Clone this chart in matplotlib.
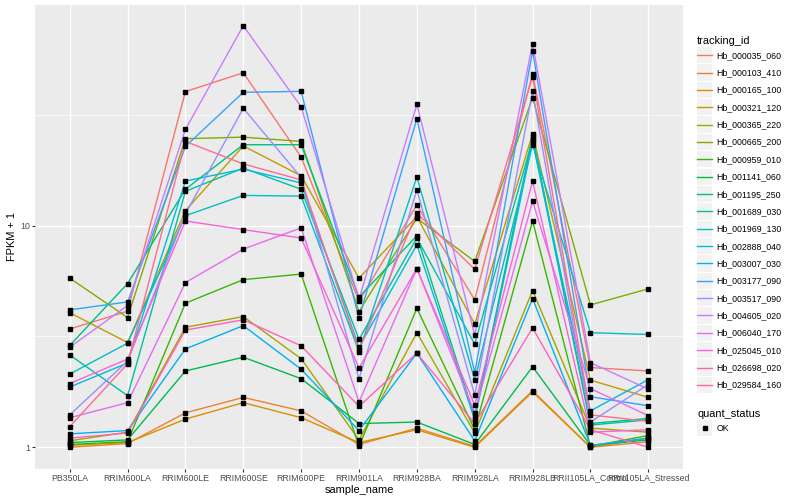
import matplotlib
matplotlib.use('Agg')
import matplotlib.pyplot as plt
from matplotlib.lines import Line2D
from matplotlib.patches import Rectangle
from matplotlib.legend_handler import HandlerLine2D
from matplotlib.ticker import FixedLocator, NullFormatter

plt.rcParams['font.family'] = ['Liberation Sans', 'DejaVu Sans']

# muestras (eje x)
samples = ['PB350LA', 'RRIM600LA', 'RRIM600LE', 'RRIM600SE', 'RRIM600PE',
           'RRIM901LA', 'RRIM928BA', 'RRIM928LA', 'RRIM928LB',
           'RRII105LA_Control', 'RRII105LA_Stressed']

# FPKM + 1 por gen, en el orden de samples
hb_000035_060 = [3.42, 4.11, 40.3, 49.0, 20.4, 4.57, 12.4, 4.63, 48.6, 2.29, 2.21]
hb_000103_410 = [1.00, 1.04, 1.43, 1.68, 1.46, 1.03, 1.22, 1.01, 1.80, 1.00, 1.06]
hb_000165_100 = [1.02, 1.05, 1.34, 1.59, 1.36, 1.05, 1.20, 1.00, 1.78, 1.00, 1.10]
hb_000321_120 = [4.05, 2.97, 11.7, 22.9, 16.8, 5.80, 11.0, 3.60, 26.0, 2.01, 1.68]
hb_000365_220 = [1.07, 1.17, 3.48, 3.89, 2.51, 1.08, 3.29, 1.16, 5.10, 1.22, 1.17]
hb_000665_200 = [5.80, 3.85, 24.7, 25.1, 24.0, 4.10, 10.8, 6.90, 37.8, 4.39, 5.19]
hb_000959_010 = [1.03, 1.06, 4.47, 5.71, 6.05, 1.01, 4.24, 1.20, 10.5, 1.01, 1.13]
hb_001141_060 = [1.05, 1.08, 2.21, 2.55, 2.04, 1.28, 1.30, 1.03, 2.31, 1.02, 1.08]
hb_001195_250 = [2.88, 5.48, 14.6, 23.2, 23.2, 4.76, 9.0, 1.37, 25.4, 1.28, 1.35]
hb_001689_030 = [2.61, 1.71, 14.3, 18.2, 14.6, 3.07, 8.8, 2.92, 24.5, 1.26, 1.33]
hb_001969_130 = [2.14, 2.95, 11.1, 13.7, 13.6, 2.70, 16.6, 2.01, 23.2, 3.29, 3.23]
hb_002888_040 = [1.87, 2.40, 15.9, 18.0, 15.6, 2.83, 8.2, 1.33, 24.0, 1.46, 2.02]
hb_003007_030 = [1.15, 1.19, 2.78, 3.54, 2.25, 1.19, 2.66, 1.07, 4.69, 1.02, 1.10]
hb_003177_090 = [4.17, 4.53, 22.8, 40.0, 40.4, 3.82, 30.4, 2.17, 61.5, 1.69, 1.54]
hb_003517_090 = [1.40, 2.45, 11.3, 33.9, 16.5, 2.04, 14.5, 1.72, 40.4, 1.30, 1.92]
hb_004605_020 = [2.83, 4.36, 27.2, 79.9, 34.4, 4.66, 35.3, 3.20, 66.4, 2.41, 1.83]
hb_006040_170 = [1.36, 1.59, 5.54, 7.84, 9.78, 1.60, 6.4, 1.43, 12.9, 1.84, 1.39]
hb_025045_010 = [1.94, 2.50, 10.5, 9.6, 8.8, 2.28, 6.4, 1.55, 15.9, 1.17, 1.20]
hb_026698_020 = [1.10, 1.16, 3.38, 3.76, 2.87, 1.53, 2.66, 1.28, 3.46, 1.20, 1.00]
hb_029584_160 = [1.24, 2.38, 24.0, 19.0, 16.1, 2.76, 11.4, 6.36, 47.0, 1.40, 1.31]

tracking_ids = ['Hb_000035_060', 'Hb_000103_410', 'Hb_000165_100', 'Hb_000321_120',
                'Hb_000365_220', 'Hb_000665_200', 'Hb_000959_010', 'Hb_001141_060',
                'Hb_001195_250', 'Hb_001689_030', 'Hb_001969_130', 'Hb_002888_040',
                'Hb_003007_030', 'Hb_003177_090', 'Hb_003517_090', 'Hb_004605_020',
                'Hb_006040_170', 'Hb_025045_010', 'Hb_026698_020', 'Hb_029584_160']
series = [hb_000035_060, hb_000103_410, hb_000165_100, hb_000321_120,
          hb_000365_220, hb_000665_200, hb_000959_010, hb_001141_060,
          hb_001195_250, hb_001689_030, hb_001969_130, hb_002888_040,
          hb_003007_030, hb_003177_090, hb_003517_090, hb_004605_020,
          hb_006040_170, hb_025045_010, hb_026698_020, hb_029584_160]

# paleta hue de ggplot (20 colores)
colores = ['#F8766D', '#EA8331', '#D89000', '#C09B00', '#A3A500', '#7CAE00',
           '#39B600', '#00BB4E', '#00BF7D', '#00C1A3', '#00BFC4', '#00BAE0',
           '#00B0F6', '#35A2FF', '#9590FF', '#C77CFF', '#E76BF3', '#FA62DB',
           '#FF62BC', '#FF6C91']


class KeyHandler(HandlerLine2D):
    # fondo gris de la clave, estilo ggplot
    def create_artists(self, legend, orig_handle, xdescent, ydescent,
                       width, height, fontsize, trans):
        arts = super().create_artists(legend, orig_handle, xdescent, ydescent,
                                      width, height, fontsize, trans)
        yc = height / 2 - ydescent
        for a in arts:
            a.set_ydata([yc] * len(a.get_xdata()))
        bg = Rectangle((-xdescent, -ydescent), width, height,
                       facecolor='#F2F2F2', edgecolor='none', transform=trans)
        return [bg] + arts


fig = plt.figure(figsize=(8, 5), dpi=100)
ax = fig.add_axes([35 / 800, 31.3 / 500, 648 / 800, 463.7 / 500])
ax.set_facecolor('#EBEBEB')
for s in ax.spines.values():
    s.set_visible(False)

x = list(range(len(samples)))
for vals, c in zip(series, colores):
    ax.plot(x, vals, color=c, lw=1.0, zorder=2)
for vals in series:
    ax.plot(x, vals, 's', color='black', ms=2.2, zorder=3)

ax.set_yscale('log')
ax.set_xlim(-0.6, len(samples) - 0.4)
ax.set_ylim(10 ** -0.0966, 10 ** 1.996)
ax.yaxis.set_major_locator(FixedLocator([1, 10]))
ax.set_yticklabels(['1', '10'])
ax.yaxis.set_minor_locator(FixedLocator([10 ** 0.5, 10 ** 1.5]))
ax.yaxis.set_minor_formatter(NullFormatter())
ax.set_xticks(x)
ax.set_xticklabels(samples)

ax.grid(which='major', color='white', lw=1.0)
ax.grid(which='minor', axis='y', color='white', lw=0.5)
ax.set_axisbelow(True)
ax.tick_params(which='major', length=2, width=0.8, color='#333333',
               labelcolor='#4D4D4D', labelsize=6.34, pad=1.6)
ax.tick_params(which='minor', length=0)

ax.set_xlabel('sample_name', fontsize=7.92, labelpad=2)
ax.set_ylabel('FPKM + 1', fontsize=7.92, labelpad=2)

# leyendas
estilo_leyenda = dict(loc='upper left', frameon=False, fontsize=6.34,
                      title_fontsize=7.92, handlelength=1.75, handleheight=2.47,
                      labelspacing=0.12, handletextpad=0.45, borderpad=0,
                      borderaxespad=0, alignment='left', numpoints=1,
                      handler_map={Line2D: KeyHandler()})

h_ids = [Line2D([], [], color=c, lw=1.0) for c in colores]
leg1 = fig.legend(h_ids, tracking_ids, title='tracking_id',
                  bbox_to_anchor=(697 / 800, 1 - 36 / 500), **estilo_leyenda)

h_ok = [Line2D([], [], marker='s', color='black', ls='none', ms=2.2)]
leg2 = fig.legend(h_ok, ['OK'], title='quant_status',
                  bbox_to_anchor=(697 / 800, 1 - 409 / 500), **estilo_leyenda)

fig.savefig('out.png', dpi=100)
